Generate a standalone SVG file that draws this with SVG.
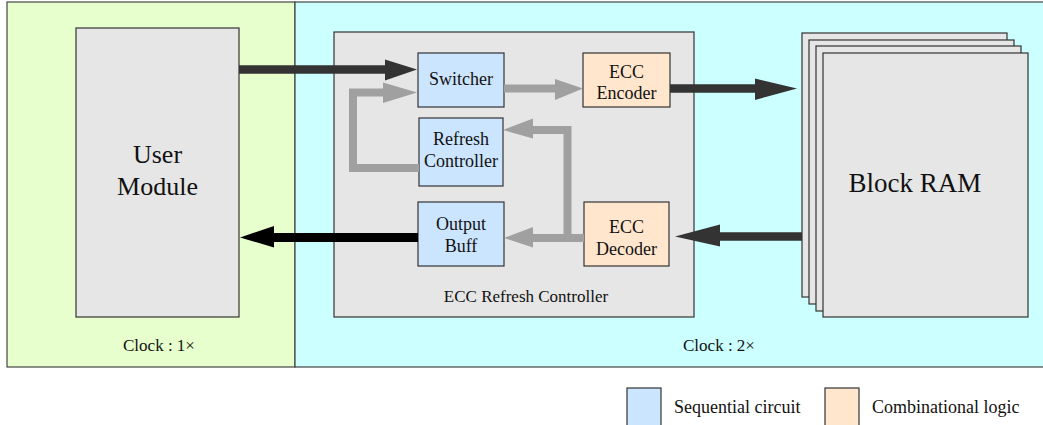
<svg xmlns="http://www.w3.org/2000/svg" width="1043" height="425" viewBox="0 0 1043 425">
  <style>
    text { font-family: "Liberation Serif", "Times New Roman", serif; fill: #111; text-anchor: middle; }
    .box { fill: #e6e6e6; stroke: #333; stroke-width: 1.2; }
    .seq { fill: #cce5ff; stroke: #333; stroke-width: 1.2; }
    .comb { fill: #ffe6cc; stroke: #333; stroke-width: 1.2; }
    .lbl { font-size: 18px; }
    .big { font-size: 26px; }
    .wire-dark { fill: none; stroke: #333; stroke-width: 8.5; }
    .wire-black { fill: none; stroke: #000; stroke-width: 9; }
    .wire-gray { fill: none; stroke: #a0a0a0; stroke-width: 8; stroke-linejoin: miter; }
    .head-dark { fill: #333; }
    .head-black { fill: #000; }
    .head-gray { fill: #a0a0a0; }
  </style>

  <!-- clock domains -->
  <g id="domain-1x">
    <rect x="7" y="2" width="288" height="365" fill="#e6ffcc" stroke="#444" stroke-width="1.2"/>
    <text x="159" y="351" style="font-size:17px">Clock : 1×</text>
  </g>
  <g id="domain-2x">
    <rect x="295" y="2" width="760" height="365" fill="#ccffff" stroke="#444" stroke-width="1.2"/>
    <text x="719" y="351" style="font-size:17px">Clock : 2×</text>
  </g>

  <!-- user module -->
  <g id="user-module">
    <rect class="box" x="76" y="28" width="163" height="289"/>
    <text class="big" x="157.5" y="163">User</text>
    <text class="big" x="157.5" y="195">Module</text>
  </g>

  <!-- refresh controller container -->
  <g id="ecc-refresh-controller">
    <rect class="box" x="334" y="32" width="360" height="285"/>
    <text x="526" y="302" style="font-size:17px">ECC Refresh Controller</text>
  </g>

  <g id="switcher">
    <rect class="seq" x="418" y="53" width="86" height="54"/>
    <text class="lbl" x="461" y="85">Switcher</text>
  </g>
  <g id="ecc-encoder">
    <rect class="comb" x="583" y="53" width="87" height="54"/>
    <text class="lbl" x="626.5" y="78">ECC</text>
    <text class="lbl" x="626.5" y="99">Encoder</text>
  </g>
  <g id="refresh-controller">
    <rect class="seq" x="419" y="118" width="84" height="68"/>
    <text class="lbl" x="461" y="145">Refresh</text>
    <text class="lbl" x="461" y="167">Controller</text>
  </g>
  <g id="output-buff">
    <rect class="seq" x="418" y="202" width="86" height="64"/>
    <text class="lbl" x="461" y="230">Output</text>
    <text class="lbl" x="461" y="252">Buff</text>
  </g>
  <g id="ecc-decoder">
    <rect class="comb" x="584" y="202" width="85" height="64"/>
    <text class="lbl" x="626.5" y="233">ECC</text>
    <text class="lbl" x="626.5" y="255">Decoder</text>
  </g>

  <!-- block RAM stack -->
  <g id="block-ram">
    <rect class="box" x="802" y="33" width="205" height="264"/>
    <rect class="box" x="809" y="40" width="205" height="264"/>
    <rect class="box" x="816" y="46" width="205" height="265"/>
    <rect class="box" x="823" y="53" width="205" height="264"/>
    <text x="915" y="192" style="font-size:27px">Block RAM</text>
  </g>

  <!-- connectors -->
  <g id="connectors">
    <!-- user module to switcher -->
    <path class="wire-dark" d="M239,69.5 H386"/>
    <polygon class="head-dark" points="385,59.5 417,69.5 385,80.5"/>
    <!-- encoder to block RAM -->
    <path class="wire-dark" d="M670,88.5 H756"/>
    <polygon class="head-dark" points="755,78.5 797,88.5 755,100"/>
    <!-- block RAM to decoder -->
    <path class="wire-dark" d="M802,236.5 H719"/>
    <polygon class="head-dark" points="720,224.5 675,236.5 720,246.5"/>
    <!-- output buffer to user module -->
    <path class="wire-black" d="M418,237.5 H273"/>
    <polygon class="head-black" points="274,226 240,237.5 274,247.5"/>

    <!-- switcher to encoder -->
    <path class="wire-gray" d="M504,88.5 H556"/>
    <polygon class="head-gray" points="555,79 583,88.5 555,100"/>
    <!-- refresh controller back to switcher -->
    <path class="wire-gray" d="M419,168 H353 V92.5 H384"/>
    <polygon class="head-gray" points="383,82.5 417,92.5 383,103"/>
    <!-- decoder to output buffer -->
    <path class="wire-gray" d="M584,238 H532"/>
    <polygon class="head-gray" points="533,227 504,238 533,247.5"/>
    <!-- decoder to refresh controller -->
    <path class="wire-gray" d="M567.5,238 V130 H532"/>
    <polygon class="head-gray" points="533,118.5 503,130 533,138.5"/>
  </g>

  <!-- legend -->
  <g id="legend">
    <rect class="seq" x="627" y="388" width="34" height="40"/>
    <text x="674" y="413" style="font-size:18px; text-anchor:start">Sequential circuit</text>
    <rect class="comb" x="825" y="388" width="34" height="40"/>
    <text x="872" y="413" style="font-size:18px; text-anchor:start">Combinational logic</text>
  </g>
</svg>
